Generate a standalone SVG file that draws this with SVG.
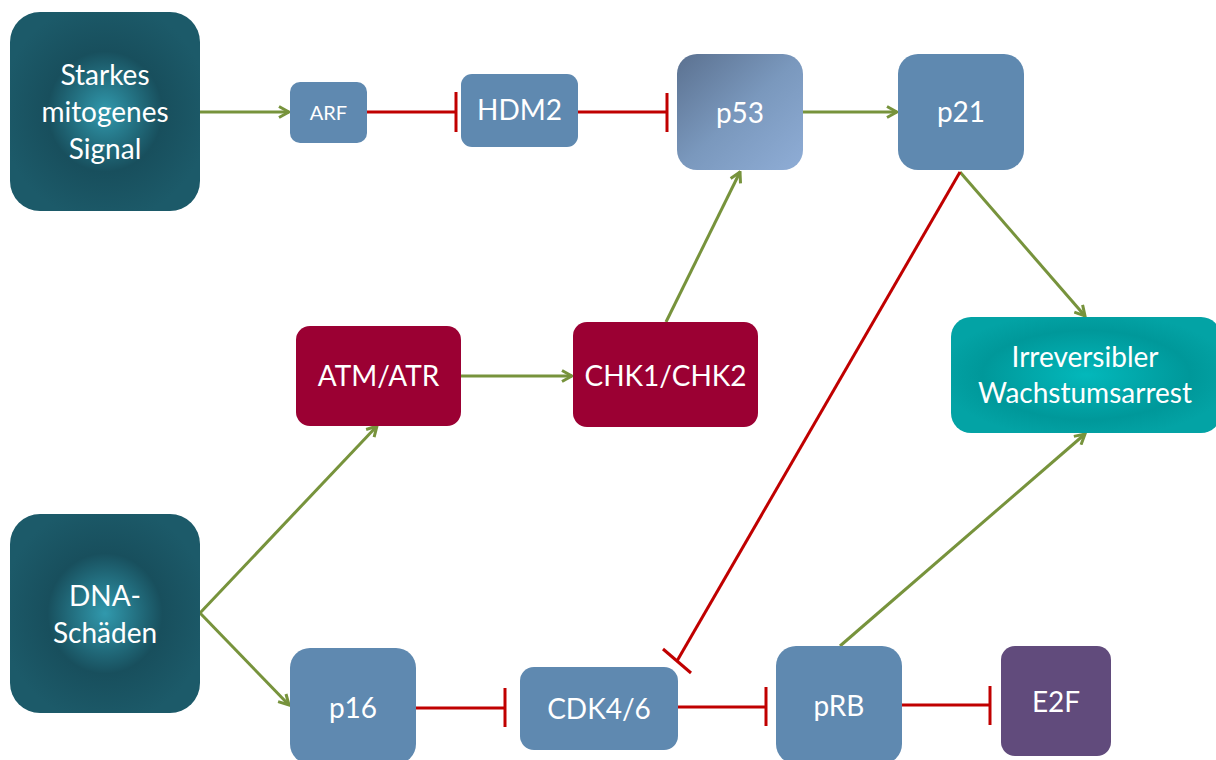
<svg xmlns="http://www.w3.org/2000/svg" width="1216" height="760" viewBox="0 0 1216 760">
<defs>
<radialGradient id="gDark" cx="50%" cy="50%" r="55%">
<stop offset="0" stop-color="#3199ad"/>
<stop offset="0.55" stop-color="#184f5d"/>
<stop offset="1" stop-color="#1c5a69"/>
</radialGradient>
<radialGradient id="gTeal" cx="50%" cy="50%" r="55%">
<stop offset="0" stop-color="#03b8bb"/>
<stop offset="0.7" stop-color="#00989a"/>
<stop offset="1" stop-color="#03a3a5"/>
</radialGradient>
<linearGradient id="gP53" x1="0" y1="0" x2="1" y2="1">
<stop offset="0" stop-color="#5b7190"/>
<stop offset="0.5" stop-color="#7a98bd"/>
<stop offset="1" stop-color="#8fadd6"/>
</linearGradient>
<marker id="arr" viewBox="0 0 14 14" refX="12.5" refY="7" markerWidth="14" markerHeight="14" markerUnits="userSpaceOnUse" orient="auto">
<path d="M2.5,1.5 L12.5,7 L2.5,12.5" fill="none" stroke="#77933c" stroke-width="3"/>
</marker>
</defs>
<style>
.blue{fill:#5f89b0}
.red{fill:#9b0033}
.t{font-family:Lato,"Open Sans",sans-serif;fill:#ffffff;text-anchor:middle;font-size:28px}
.act{stroke:#77933c;stroke-width:3;fill:none}
.inh{stroke:#c00000;stroke-width:3;fill:none}
</style>
<rect width="1216" height="760" fill="#ffffff"/>
<g id="connectors">
<line class="act" x1="200" y1="112" x2="289" y2="112" marker-end="url(#arr)"/>
<line class="inh" x1="367" y1="112" x2="456" y2="112"/>
<line class="inh" x1="456" y1="92" x2="456" y2="132"/>
<line class="inh" x1="578" y1="112" x2="667" y2="112"/>
<line class="inh" x1="667" y1="93" x2="667" y2="132"/>
<line class="act" x1="803" y1="112" x2="897" y2="112" marker-end="url(#arr)"/>
<line class="act" x1="666" y1="322" x2="740" y2="172" marker-end="url(#arr)"/>
<line class="act" x1="461" y1="376" x2="572" y2="376" marker-end="url(#arr)"/>
<line class="act" x1="200" y1="613" x2="377" y2="426" marker-end="url(#arr)"/>
<line class="act" x1="200" y1="613" x2="289" y2="705" marker-end="url(#arr)"/>
<line class="act" x1="960" y1="172" x2="1085" y2="316" marker-end="url(#arr)"/>
<line class="act" x1="840" y1="646" x2="1085" y2="434" marker-end="url(#arr)"/>
<line class="inh" x1="960" y1="172" x2="677" y2="661"/>
<line class="inh" x1="663" y1="649" x2="691" y2="673"/>
<line class="inh" x1="416" y1="708" x2="505" y2="708"/>
<line class="inh" x1="505" y1="688" x2="505" y2="727"/>
<line class="inh" x1="678" y1="707" x2="766" y2="707"/>
<line class="inh" x1="766" y1="687" x2="766" y2="726"/>
<line class="inh" x1="902" y1="705" x2="990" y2="705"/>
<line class="inh" x1="990" y1="686" x2="990" y2="725"/>
</g>
<g id="starkes">
<rect x="10" y="12" width="190" height="199" rx="30" fill="url(#gDark)"/>
<text class="t" x="105" y="85">Starkes</text>
<text class="t" x="105" y="122">mitogenes</text>
<text class="t" x="105" y="159">Signal</text>
</g>
<g id="arf">
<rect class="blue" x="290" y="82" width="77" height="61" rx="10"/>
<text class="t" x="328.5" y="120" style="font-size:20px">ARF</text>
</g>
<g id="hdm2">
<rect class="blue" x="461" y="74" width="117" height="73" rx="11"/>
<text class="t" x="519.5" y="120">HDM2</text>
</g>
<g id="p53">
<rect x="677" y="54" width="126" height="116" rx="20" fill="url(#gP53)"/>
<text class="t" x="740" y="123">p53</text>
</g>
<g id="p21">
<rect class="blue" x="898" y="54" width="126" height="116" rx="20"/>
<text class="t" x="961" y="122">p21</text>
</g>
<g id="irreversibler">
<rect x="951" y="317" width="270" height="116" rx="20" fill="url(#gTeal)"/>
<text class="t" x="1085" y="367">Irreversibler</text>
<text class="t" x="1085" y="403">Wachstumsarrest</text>
</g>
<g id="atm">
<rect class="red" x="296" y="326" width="165" height="100" rx="14"/>
<text class="t" x="378.5" y="386">ATM/ATR</text>
</g>
<g id="chk">
<rect class="red" x="573" y="322" width="185" height="105" rx="14"/>
<text class="t" x="665.5" y="386">CHK1/CHK2</text>
</g>
<g id="dna">
<rect x="10" y="514" width="190" height="199" rx="30" fill="url(#gDark)"/>
<text class="t" x="105" y="606">DNA-</text>
<text class="t" x="105" y="643">Schäden</text>
</g>
<g id="p16">
<rect class="blue" x="290" y="648" width="126" height="116" rx="20"/>
<text class="t" x="353" y="718">p16</text>
</g>
<g id="cdk">
<rect class="blue" x="520" y="667" width="158" height="83" rx="14"/>
<text class="t" x="599" y="719">CDK4/6</text>
</g>
<g id="prb">
<rect class="blue" x="776" y="646" width="126" height="118" rx="20"/>
<text class="t" x="839" y="716">pRB</text>
</g>
<g id="e2f">
<rect x="1001" y="646" width="110" height="110" rx="14" fill="#614b7c"/>
<text class="t" x="1056" y="712">E2F</text>
</g>
</svg>
